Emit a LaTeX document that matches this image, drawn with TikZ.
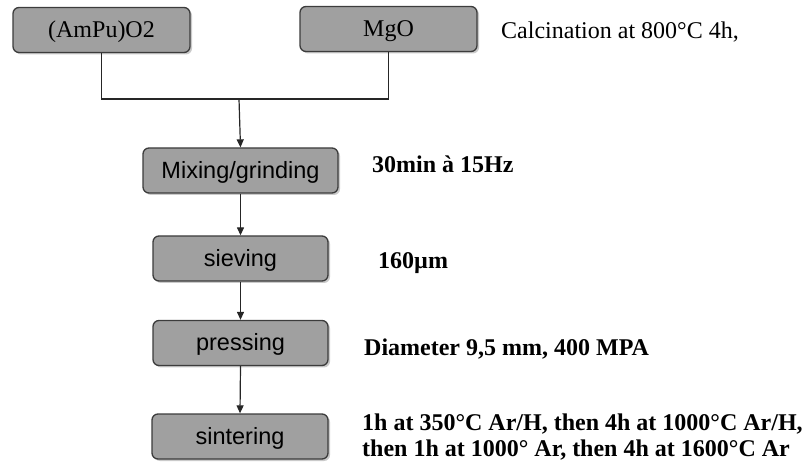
\documentclass[tikz,border=0pt]{standalone}
\usepackage{fontspec}
\setmainfont{Liberation Serif}
\newfontfamily\boxsans{Liberation Sans}
\usetikzlibrary{arrows.meta,shadows}
\definecolor{boxgray}{HTML}{A0A0A0}
\definecolor{edgegray}{HTML}{3C3C3C}
\tikzset{
  procbox/.style={draw=edgegray, line width=1.3pt, fill=boxgray, rounded corners=6pt,
    minimum height=45pt, inner sep=0pt, text height=19.5pt, text depth=4pt,
    drop shadow={shadow xshift=2pt, shadow yshift=-2pt, fill=black!35, opacity=0.6}},
  serifbox/.style={procbox, minimum width=177pt, font=\fontsize{24}{27}\selectfont},
  sansbox/.style={procbox, font=\boxsans\fontsize{23.5}{27}\selectfont},
  conn/.style={draw=black!85, line width=1.2pt},
  arr/.style={conn, -{Triangle[length=8pt,width=7pt]}},
  note/.style={anchor=west, inner sep=0pt, font=\fontsize{24}{27}\selectfont},
  boldnote/.style={note, font=\bfseries\fontsize{24}{25.5}\selectfont}
}
\begin{document}
\begin{tikzpicture}[x=1pt,y=-1pt]
\useasboundingbox (0,0) rectangle (809,462);
\node[serifbox] (ampu) at (101.5,30) {(AmPu)O2};
\node[serifbox] (mgo) at (388.5,29) {MgO};
\node[sansbox, minimum width=195pt] (mix) at (240.5,170.5) {Mixing/grinding};
\node[sansbox, minimum width=175pt] (sieve) at (240.5,258.5) {sieving};
\node[sansbox, minimum width=175pt] (press) at (240.5,343) {pressing};
\node[sansbox, minimum width=176pt] (sinter) at (240,436.5) {sintering};
\coordinate (j) at (239,99);
\draw[conn] (ampu.south) |- (j) -| (mgo.south);
\draw[arr] (j) -- (mix.north);
\draw[arr] (mix.south) -- (sieve.north);
\draw[arr] (sieve.south) -- (press.north);
\draw[arr] (press.south) -- (sinter.north);
\node[note] (calc) at (501,32) {Calcination at 800°C 4h,};
\node[boldnote] (mixnote) at (372,164) {30min à 15Hz};
\node[boldnote] (sievenote) at (378,263) {160µm};
\node[boldnote] (pressnote) at (364,349) {Diameter 9,5 mm, 400 MPA};
\node[boldnote, align=left] (sinternote) at (362,437) {1h at 350°C Ar/H, then 4h at 1000°C Ar/H,\\then 1h at 1000° Ar, then 4h at 1600°C Ar};
\end{tikzpicture}
\end{document}
